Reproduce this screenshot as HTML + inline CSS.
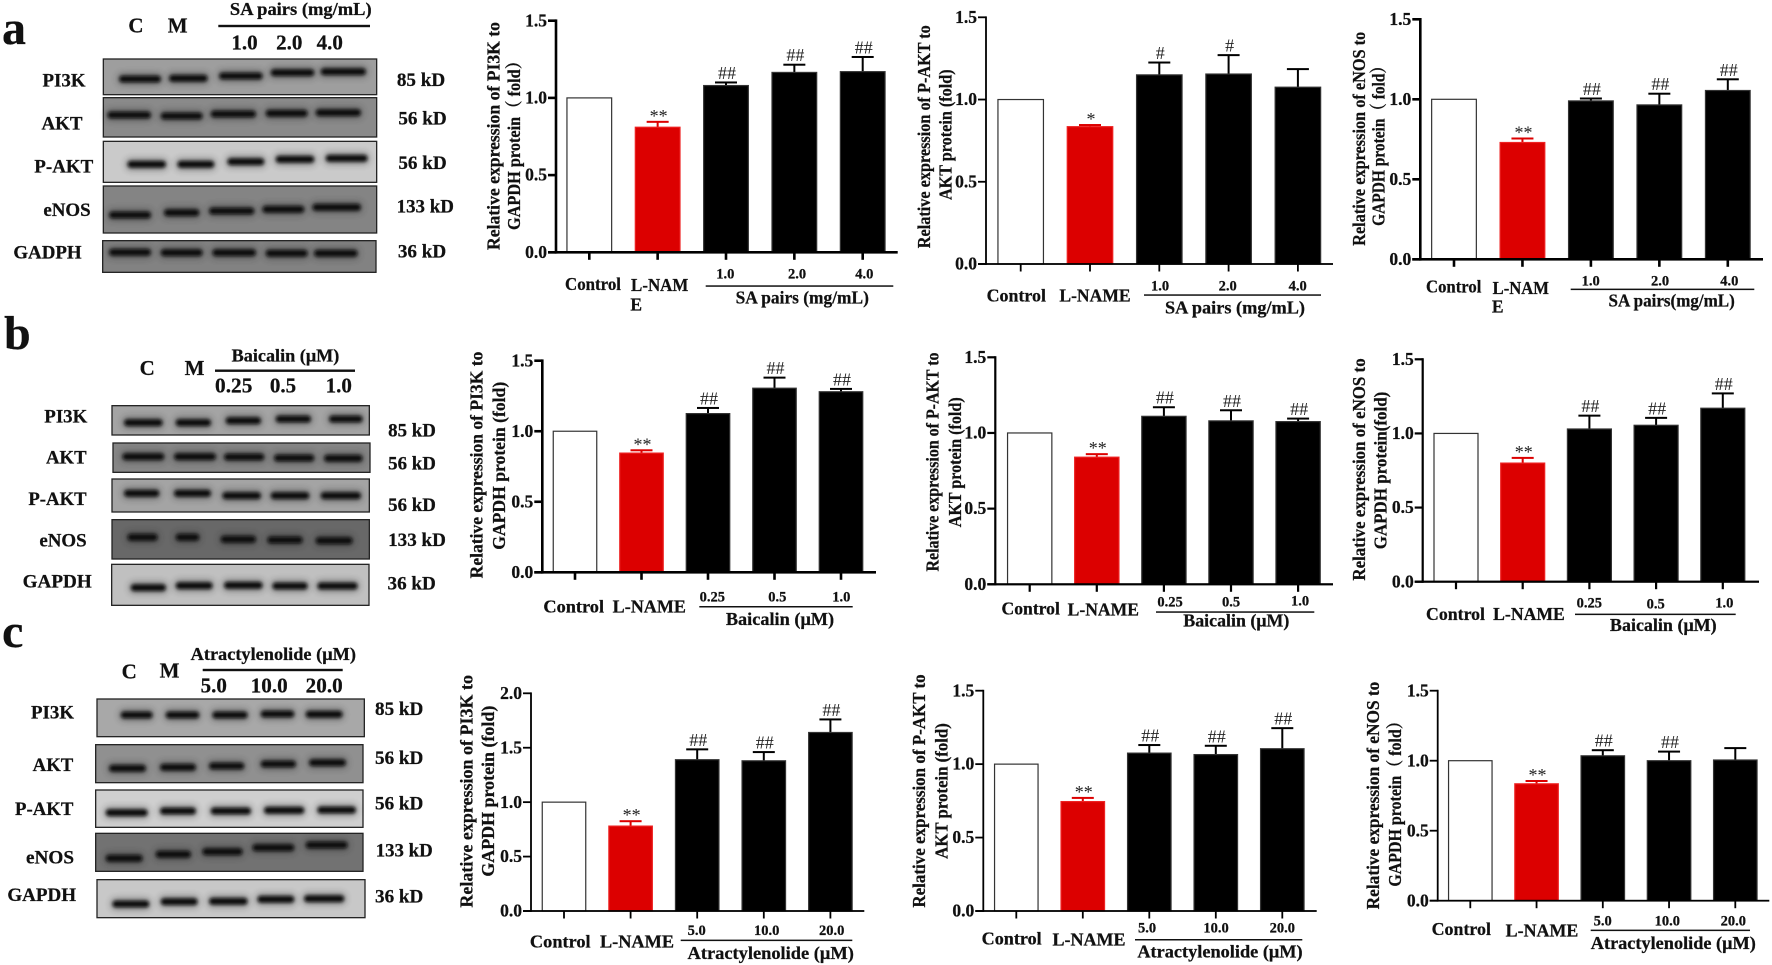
<!DOCTYPE html>
<html lang="en">
<head>
<meta charset="utf-8">
<title>PI3K, P-AKT and eNOS expression figure</title>
<style>
html,body{margin:0;padding:0;background:#fff;}
#figure{display:block;width:1772px;height:965px;filter:blur(.35px);}
text{font-family:"Liberation Serif","Noto Serif CJK SC",serif;font-weight:bold;fill:#111;stroke:#111;stroke-width:.25px;}
.m{text-anchor:middle;}
.t{font-size:17.5px;text-anchor:middle;}
.l{font-size:17.5px;text-anchor:middle;}
.d{font-size:14.5px;text-anchor:middle;}
.r{font-size:19px;text-anchor:middle;}
.h{font-size:21px;text-anchor:middle;}
.p{font-size:48px;}
</style>
</head>
<body>
<svg id="figure" xmlns="http://www.w3.org/2000/svg" width="1772" height="965" viewBox="0 0 1772 965">
<defs>
<filter id="bandBlur" x="-20%" y="-150%" width="140%" height="400%"><feGaussianBlur stdDeviation="1.7"/></filter>
<filter id="haloBlur" x="-20%" y="-150%" width="140%" height="400%"><feGaussianBlur stdDeviation="3.2"/></filter>
</defs>
<rect x="0" y="0" width="1772" height="965" fill="#fff"/>

<g id="blots"></g>

<g>
<text class="p" x="2" y="44">a</text>
<text class="h" x="136" y="32.7">C</text>
<text class="h" x="177.7" y="32.7">M</text>
<text class="l" x="300.8" y="15" textLength="141.7">SA pairs (mg/mL)</text>
<rect x="218.3" y="24.8" width="151.7" height="2.4" fill="#111"/>
<text class="h" x="244.5" y="49.3">1.0</text>
<text class="h" x="289.3" y="49.3">2.0</text>
<text class="h" x="329.7" y="49.3">4.0</text>
<text class="r" x="64" y="86.7" textLength="43">PI3K</text>
<text class="r" x="62" y="129.3" textLength="41">AKT</text>
<text class="r" x="63.8" y="172.7" textLength="59">P-AKT</text>
<text class="r" x="67" y="216" textLength="47.3">eNOS</text>
<text class="r" x="47.5" y="258.3" textLength="68.3">GADPH</text>
<text class="r" x="421" y="86" textLength="48.3">85 kD</text>
<text class="r" x="422.5" y="124.3" textLength="48.3">56 kD</text>
<text class="r" x="422.5" y="169" textLength="48.3">56 kD</text>
<text class="r" x="425.3" y="212.7" textLength="57.3">133 kD</text>
<text class="r" x="422" y="257.3" textLength="48.3">36 kD</text>
</g>

<g>
<text class="p" x="4" y="349">b</text>
<text class="h" x="147.2" y="375">C</text>
<text class="h" x="194.5" y="375">M</text>
<text class="l" x="285.5" y="361.7" textLength="107.7">Baicalin (μM)</text>
<rect x="215" y="369.5" width="140" height="2.4" fill="#111"/>
<text class="h" x="233.7" y="392.7" textLength="37.3">0.25</text>
<text class="h" x="283" y="392.7">0.5</text>
<text class="h" x="338.8" y="392.7">1.0</text>
<text class="r" x="65.8" y="422.3" textLength="43">PI3K</text>
<text class="r" x="66.3" y="463.3" textLength="40.7">AKT</text>
<text class="r" x="57.5" y="505" textLength="58.3">P-AKT</text>
<text class="r" x="63" y="546.7" textLength="47.3">eNOS</text>
<text class="r" x="57.2" y="587.7" textLength="69">GAPDH</text>
<text class="r" x="412" y="436.7" textLength="47.7">85 kD</text>
<text class="r" x="412" y="469.3" textLength="47.7">56 kD</text>
<text class="r" x="412" y="511" textLength="47.7">56 kD</text>
<text class="r" x="417" y="546" textLength="57.7">133 kD</text>
<text class="r" x="411.7" y="589.3" textLength="48.3">36 kD</text>
</g>

<g>
<text class="p" x="2" y="647">c</text>
<text class="h" x="129.2" y="678.3">C</text>
<text class="h" x="169.5" y="677.3">M</text>
<text class="l" x="273.3" y="660" textLength="165.3">Atractylenolide (μM)</text>
<rect x="202.7" y="668.8" width="140" height="2.4" fill="#111"/>
<text class="h" x="213.7" y="692.3">5.0</text>
<text class="h" x="269.2" y="692.3" textLength="37">10.0</text>
<text class="h" x="324.2" y="692.3" textLength="37">20.0</text>
<text class="r" x="52.5" y="718.3" textLength="43">PI3K</text>
<text class="r" x="53" y="771" textLength="40.7">AKT</text>
<text class="r" x="44.2" y="815" textLength="58.3">P-AKT</text>
<text class="r" x="50" y="863.3" textLength="48">eNOS</text>
<text class="r" x="41.7" y="901" textLength="68.7">GAPDH</text>
<text class="r" x="399.2" y="715" textLength="48.3">85 kD</text>
<text class="r" x="399.2" y="764" textLength="48.3">56 kD</text>
<text class="r" x="399.2" y="809.3" textLength="48.3">56 kD</text>
<text class="r" x="404.2" y="856.7" textLength="57">133 kD</text>
<text class="r" x="399.2" y="902.3" textLength="48.3">36 kD</text>
</g>

<!-- a1 -->
<g id="a1">
<text class="t" transform="translate(499.3,136) rotate(-90)" textLength="228">Relative expression of PI3K to</text>
<text class="t" transform="translate(520,141.5) rotate(-90)" textLength="177">GAPDH protein（ fold）</text>
<text class="l" x="593" y="290" textLength="56">Control</text>
<text class="l" x="659.7" y="291" textLength="57.3">L-NAM</text>
<text class="l" x="636.2" y="310.7">E</text>
<text class="d" x="725.3" y="278.3">1.0</text>
<text class="d" x="797" y="278.3">2.0</text>
<text class="d" x="864.3" y="278.3">4.0</text>
<rect x="705.7" y="285.3" width="187.6" height="1.5" fill="#111"/>
<text class="l" x="802.3" y="303.3" textLength="133.3">SA pairs (mg/mL)</text>
</g>
<!-- a2 -->
<g id="a2">
<text class="t" transform="translate(930,136.7) rotate(-90)" textLength="223">Relative expression of P-AKT to</text>
<text class="t" transform="translate(951.7,134.7) rotate(-90)" textLength="130.7">AKT protein (fold)</text>
<text class="l" x="1016.3" y="301.7" textLength="59.3">Control</text>
<text class="l" x="1095" y="301.7" textLength="71.3">L-NAME</text>
<text class="d" x="1160" y="290.7">1.0</text>
<text class="d" x="1227.7" y="290.7">2.0</text>
<text class="d" x="1297.7" y="290.7">4.0</text>
<rect x="1144" y="294.3" width="177" height="1.5" fill="#111"/>
<text class="l" x="1235" y="313.3" textLength="140">SA pairs (mg/mL)</text>
</g>
<!-- a3 -->
<g id="a3">
<text class="t" transform="translate(1365,138.8) rotate(-90)" textLength="214">Relative expression of eNOS to</text>
<text class="t" transform="translate(1384.3,142) rotate(-90)" textLength="167.7">GAPDH protein（ fold）</text>
<text class="l" x="1453.7" y="292.7" textLength="55.3">Control</text>
<text class="l" x="1520.8" y="294" textLength="56.3">L-NAM</text>
<text class="l" x="1497.7" y="312.7">E</text>
<text class="d" x="1590.7" y="285.7">1.0</text>
<text class="d" x="1660" y="285.7">2.0</text>
<text class="d" x="1729.3" y="285.7">4.0</text>
<rect x="1570.7" y="288.6" width="183.6" height="1.5" fill="#111"/>
<text class="l" x="1671.7" y="306.7" textLength="126.3">SA pairs(mg/mL)</text>
</g>
<!-- b1 -->
<g id="b1">
<text class="t" transform="translate(482.3,465) rotate(-90)" textLength="226.7">Relative expression of PI3K to</text>
<text class="t" transform="translate(505,465.8) rotate(-90)" textLength="168">GAPDH protein (fold)</text>
<text class="l" x="573.7" y="612.3" textLength="60.7">Control</text>
<text class="l" x="649.3" y="612.3" textLength="73.3">L-NAME</text>
<text class="d" x="712.3" y="601.7">0.25</text>
<text class="d" x="777.3" y="601.7">0.5</text>
<text class="d" x="841.3" y="601.7">1.0</text>
<rect x="699.3" y="606" width="153.4" height="1.5" fill="#111"/>
<text class="l" x="780" y="625" textLength="108.3">Baicalin (μM)</text>
</g>
<!-- b2 -->
<g id="b2">
<text class="t" transform="translate(938.3,462) rotate(-90)" textLength="219">Relative expression of P-AKT to</text>
<text class="t" transform="translate(961,462.3) rotate(-90)" textLength="130">AKT protein (fold)</text>
<text class="l" x="1030.7" y="614.3" textLength="58.3">Control</text>
<text class="l" x="1103.3" y="615.7" textLength="71.3">L-NAME</text>
<text class="d" x="1170" y="606.7">0.25</text>
<text class="d" x="1231" y="606.7">0.5</text>
<text class="d" x="1300" y="605.7">1.0</text>
<rect x="1156" y="611.3" width="158.3" height="1.5" fill="#111"/>
<text class="l" x="1236.3" y="626.7" textLength="106">Baicalin (μM)</text>
</g>
<!-- b3 -->
<g id="b3">
<text class="t" transform="translate(1365,469.5) rotate(-90)" textLength="222.3">Relative expression of eNOS to</text>
<text class="t" transform="translate(1386.7,470.5) rotate(-90)" textLength="157.6">GAPDH protein(fold)</text>
<text class="l" x="1455.5" y="620" textLength="59">Control</text>
<text class="l" x="1529" y="620" textLength="71.7">L-NAME</text>
<text class="d" x="1589.3" y="607.3">0.25</text>
<text class="d" x="1655.7" y="608.3">0.5</text>
<text class="d" x="1724.3" y="607.3">1.0</text>
<rect x="1575" y="613.6" width="160.7" height="1.5" fill="#111"/>
<text class="l" x="1663.3" y="631" textLength="106.7">Baicalin (μM)</text>
</g>
<!-- c1 -->
<g id="c1">
<text class="t" transform="translate(472.3,791.3) rotate(-90)" textLength="232.7">Relative expression of PI3K to</text>
<text class="t" transform="translate(494,791.2) rotate(-90)" textLength="171">GAPDH protein (fold)</text>
<text class="l" x="560.3" y="947.7" textLength="60.7">Control</text>
<text class="l" x="637" y="947.7" textLength="74">L-NAME</text>
<text class="d" x="696.7" y="935">5.0</text>
<text class="d" x="766.7" y="935">10.0</text>
<text class="d" x="831.7" y="935">20.0</text>
<rect x="680.7" y="939.6" width="171.6" height="1.5" fill="#111"/>
<text class="l" x="770.7" y="959" textLength="166.3">Atractylenolide (μM)</text>
</g>
<!-- c2 -->
<g id="c2">
<text class="t" transform="translate(925,791) rotate(-90)" textLength="233.3">Relative expression of P-AKT to</text>
<text class="t" transform="translate(947.7,791) rotate(-90)" textLength="135.7">AKT protein (fold)</text>
<text class="l" x="1011.7" y="944.3" textLength="60">Control</text>
<text class="l" x="1089" y="945.7" textLength="73">L-NAME</text>
<text class="d" x="1147" y="932.7">5.0</text>
<text class="d" x="1216" y="932.7">10.0</text>
<text class="d" x="1282.3" y="932.7">20.0</text>
<rect x="1135" y="939" width="167.3" height="1.5" fill="#111"/>
<text class="l" x="1220" y="957.7" textLength="165.3">Atractylenolide (μM)</text>
</g>
<!-- c3 -->
<g id="c3">
<text class="t" transform="translate(1379,795.5) rotate(-90)" textLength="227.7">Relative expression of eNOS to</text>
<text class="t" transform="translate(1401,800) rotate(-90)" textLength="173.3">GAPDH protein（ fold）</text>
<text class="l" x="1461.3" y="935" textLength="59.3">Control</text>
<text class="l" x="1542" y="936.7" textLength="72.7">L-NAME</text>
<text class="d" x="1602.7" y="925.7">5.0</text>
<text class="d" x="1667.3" y="925.7">10.0</text>
<text class="d" x="1733.3" y="925.7">20.0</text>
<rect x="1590.7" y="929.6" width="159.3" height="1.5" fill="#111"/>
<text class="l" x="1673.3" y="949" textLength="165">Atractylenolide (μM)</text>
</g>
</svg>

<script>
const categories = ['control', 'l-name', 'dose-low', 'dose-mid', 'dose-high'];
const ticks15 = [0, 0.5, 1.0, 1.5];
const ticks20 = [0, 0.5, 1.0, 1.5, 2.0];

const a1Means = [1, 0.81, 1.08, 1.165, 1.17];
const a1Upper = [1, 0.845, 1.10, 1.215, 1.265];
const a1Marks = ['', '**', '##', '##', '##'];

const a2Means = [1, 0.835, 1.15, 1.155, 1.075];
const a2Upper = [1, 0.845, 1.225, 1.27, 1.185];
const a2Marks = ['', '*', '#', '#', ''];

const a3Means = [1, 0.73, 0.99, 0.965, 1.055];
const a3Upper = [1, 0.755, 1.005, 1.035, 1.125];
const a3Marks = ['', '**', '##', '##', '##'];

const b1Means = [1, 0.845, 1.125, 1.305, 1.28];
const b1Upper = [1, 0.865, 1.165, 1.38, 1.30];
const b1Marks = ['', '**', '##', '##', '##'];

const b2Means = [1, 0.84, 1.11, 1.08, 1.075];
const b2Upper = [1, 0.86, 1.17, 1.15, 1.095];
const b2Marks = ['', '**', '##', '##', '##'];

const b3Means = [1, 0.80, 1.03, 1.055, 1.17];
const b3Upper = [1, 0.835, 1.12, 1.105, 1.27];
const b3Marks = ['', '**', '##', '##', '##'];

const c1Means = [1, 0.78, 1.39, 1.38, 1.64];
const c1Upper = [1, 0.825, 1.485, 1.46, 1.76];
const c1Marks = ['', '**', '##', '##', '##'];

const c2Means = [1, 0.745, 1.075, 1.065, 1.105];
const c2Upper = [1, 0.77, 1.13, 1.125, 1.245];
const c2Marks = ['', '**', '##', '##', '##'];

const c3Means = [1, 0.835, 1.035, 1.0, 1.005];
const c3Upper = [1, 0.855, 1.075, 1.065, 1.09];
const c3Marks = ['', '**', '##', '##', ''];

const SVGNS = 'http://www.w3.org/2000/svg';

/* Fit text to measured widths by scaling glyphs rather than squeezing spacing. */
document.querySelectorAll('text[textLength]').forEach(function (el) {
  el.setAttribute('lengthAdjust', 'spacingAndGlyphs');
});

function shape(tag, parent, name, geometry) {
  const el = document.createElementNS(SVGNS, tag);
  
  
  Object.keys(geometry).forEach(function (k) { el.setAttribute(k, geometry[k]); });
  parent.appendChild(el);
  return el;
}

function drawChart(id, box, yTicks, means, upper, marks) {
  const root = document.getElementById(id);
  const yMax = yTicks[yTicks.length - 1];
  const yScale = function (v) { return box.y0 - (v / yMax) * (box.y0 - box.yTop); };
  const xScale = function (i) { return box.first + i * box.step; };

  means.forEach(function (v, i) {
    const cx = xScale(i);
    const top = yScale(v);
    const capY = yScale(upper[i]);
    const colour = i === 0 ? '#fff' : (i === 1 ? '#dc0000' : '#000');
    const edge = i === 0 ? '#333' : (i === 1 ? '#e22' : '#333');
    const ink = i === 1 ? '#dc0000' : '#000';
    if (upper[i] > v) {
      shape('rect', root, 'error-stem-' + categories[i], { x: cx - 1, y: capY, width: 2, height: top - capY, fill: ink });
      shape('rect', root, 'error-cap-' + categories[i], { x: cx - 11, y: capY - 1, width: 22, height: 2, fill: ink });
    }
    shape('rect', root, 'bar-' + categories[i], {
      x: cx - box.barW / 2, y: top, width: box.barW, height: box.y0 - top,
      fill: colour, stroke: edge, 'stroke-width': 1.2
    });
    if (marks[i]) {
      const isStar = marks[i].charAt(0) === '*';
      const mark = shape('text', root, 'significance-mark-' + categories[i], {
        x: cx + 1, y: isStar ? capY : capY - 3.5, 'text-anchor': 'middle',
        style: 'font-size:18px;font-weight:normal;fill:#222;stroke:none'
      });
      mark.textContent = marks[i];
    }
    shape('rect', root, 'x-tick-' + categories[i], {
      x: cx - box.axisW / 2, y: box.y0, width: box.axisW, height: 7.5, fill: '#000'
    });
  });

  shape('rect', root, 'y-axis', {
    x: box.axisX - box.axisW / 2, y: yScale(yMax) - box.axisW / 2,
    width: box.axisW, height: box.y0 - yScale(yMax) + box.axisW, fill: '#000'
  });
  shape('rect', root, 'x-axis', {
    x: box.axisX - 8, y: box.y0 - box.axisW / 2,
    width: box.xEnd - box.axisX + 8, height: box.axisW, fill: '#000'
  });

  yTicks.forEach(function (v) {
    const y = yScale(v);
    shape('rect', root, 'y-tick', { x: box.axisX - 8, y: y - box.axisW / 2, width: 8, height: box.axisW, fill: '#000' });
    const tick = shape('text', root, 'y-tick-label', {
      x: box.axisX - 9, y: y + 5.6, 'text-anchor': 'end', style: 'font-size:17.5px'
    });
    tick.textContent = v.toFixed(1);
  });
}

drawChart('a1', { axisX: 556, y0: 252.3, yTop: 20.7, xEnd: 897.7, first: 589.3, step: 68.35, barW: 44.7, axisW: 2.6 }, ticks15, a1Means, a1Upper, a1Marks);
drawChart('a2', { axisX: 986, y0: 264, yTop: 17.3, xEnd: 1333, first: 1020.7, step: 69.3, barW: 45.5, axisW: 1.8 }, ticks15, a2Means, a2Upper, a2Marks);
drawChart('a3', { axisX: 1420.3, y0: 259.3, yTop: 19.3, xEnd: 1763, first: 1454, step: 68.45, barW: 44.7, axisW: 2.6 }, ticks15, a3Means, a3Upper, a3Marks);
drawChart('b1', { axisX: 542.3, y0: 572.3, yTop: 360.7, xEnd: 876, first: 575, step: 66.5, barW: 43.5, axisW: 2.6 }, ticks15, b1Means, b1Upper, b1Marks);
drawChart('b2', { axisX: 995.3, y0: 584.3, yTop: 357.3, xEnd: 1333, first: 1029.7, step: 67.1, barW: 44.3, axisW: 2.2 }, ticks15, b2Means, b2Upper, b2Marks);
drawChart('b3', { axisX: 1422.7, y0: 581.7, yTop: 359.3, xEnd: 1759, first: 1456, step: 66.7, barW: 44, axisW: 2.2 }, ticks15, b3Means, b3Upper, b3Marks);
drawChart('c1', { axisX: 531, y0: 911, yTop: 693.3, xEnd: 864.3, first: 564, step: 66.6, barW: 43.5, axisW: 1.8 }, ticks20, c1Means, c1Upper, c1Marks);
drawChart('c2', { axisX: 983.3, y0: 911, yTop: 690.7, xEnd: 1316.7, first: 1016.3, step: 66.5, barW: 43.5, axisW: 1.8 }, ticks15, c2Means, c2Upper, c2Marks);
drawChart('c3', { axisX: 1437.7, y0: 900.7, yTop: 690.7, xEnd: 1769.3, first: 1470.3, step: 66.25, barW: 43.5, axisW: 1.8 }, ticks15, c3Means, c3Upper, c3Marks);

/* Western-blot strips: decorative photographic panels, not chart marks. */
const stripsA = [
  ['pi3k', 310, 1130, 177, 284, '#9e9e9e', [[355, 485, 237], [505, 625, 235], [655, 790, 228], [810, 945, 218], [960, 1100, 215]]],
  ['akt', 310, 1130, 293, 411, '#8a8a8a', [[320, 455, 345], [480, 610, 348], [630, 770, 342], [795, 925, 340], [945, 1085, 338]]],
  ['p-akt', 310, 1130, 424, 547, '#cacaca', [[380, 500, 493], [530, 645, 493], [680, 795, 485], [825, 945, 478], [975, 1105, 475]]],
  ['enos', 310, 1130, 558, 699, '#848484', [[325, 455, 645], [490, 600, 638], [625, 765, 633], [785, 915, 628], [935, 1085, 622]]],
  ['gadph', 308, 1128, 722, 817, '#828282', [[325, 455, 757], [480, 610, 758], [635, 770, 758], [795, 925, 760], [940, 1075, 760]]]
];
const stripsB = [
  ['pi3k', 336, 1108, 257, 345, '#a4a4a4', [[370, 490, 308], [525, 635, 308], [675, 785, 302], [825, 935, 297], [985, 1090, 297]]],
  ['akt', 339, 1110, 369, 457, '#868686', [[365, 495, 410], [520, 650, 410], [670, 795, 411], [820, 945, 414], [970, 1090, 415]]],
  ['p-akt', 336, 1108, 477, 576, '#a4a4a4', [[370, 480, 520], [520, 635, 520], [665, 785, 527], [810, 930, 527], [960, 1085, 527]]],
  ['enos', 336, 1108, 599, 717, '#686868', [[380, 475, 652], [525, 600, 652], [660, 770, 658], [800, 910, 660], [945, 1060, 662]]],
  ['gapdh', 335, 1107, 733, 856, '#c0c0c0', [[390, 500, 803], [525, 640, 797], [670, 790, 796], [815, 925, 798], [950, 1075, 798]]]
];
const stripsC = [
  ['pi3k', 291, 1093, 222, 335, '#a8a8a8', [[360, 460, 270], [495, 600, 270], [635, 745, 270], [780, 885, 267], [915, 1030, 268]]],
  ['akt', 287, 1089, 359, 473, '#909090', [[325, 440, 430], [478, 590, 427], [625, 735, 423], [780, 890, 417], [925, 1040, 413]]],
  ['p-akt', 287, 1089, 495, 607, '#cfcfcf', [[315, 445, 563], [478, 590, 558], [630, 755, 558], [790, 915, 556], [950, 1070, 555]]],
  ['enos', 287, 1089, 625, 739, '#727272', [[315, 430, 700], [465, 575, 688], [605, 730, 680], [755, 885, 668], [915, 1045, 660]]],
  ['gapdh', 291, 1095, 764, 878, '#c8c8c8', [[335, 450, 837], [480, 595, 830], [625, 745, 829], [770, 885, 823], [910, 1035, 821]]]
];

function drawStrips(strips, oy, prefix) {
  const root = document.getElementById('blots');
  strips.forEach(function (s) {
    const x1 = s[1] / 3, x2 = s[2] / 3, y1 = oy + s[3] / 3, y2 = oy + s[4] / 3;
    shape('rect', root, 'blot-' + prefix + '-' + s[0], {
      x: x1, y: y1, width: x2 - x1, height: y2 - y1, fill: s[5], stroke: '#222', 'stroke-width': 1.3
    });
    s[6].forEach(function (b) {
      const bx = b[0] / 3, bw = (b[1] - b[0]) / 3, by = oy + b[2] / 3;
      shape('rect', root, 'blot-band-halo', {
        x: bx - 1, y: by - 6, width: bw + 2, height: 12, rx: 5, fill: '#222', opacity: 0.4, filter: 'url(#haloBlur)'
      });
      shape('rect', root, 'blot-band', {
        x: bx + 1, y: by - 3.3, width: bw - 2, height: 6.6, rx: 3.3, fill: '#0a0a0a', filter: 'url(#bandBlur)'
      });
    });
  });
}
drawStrips(stripsA, 0, 'a');
drawStrips(stripsB, 320, 'b');
drawStrips(stripsC, 625, 'c');
</script>
</body>
</html>
